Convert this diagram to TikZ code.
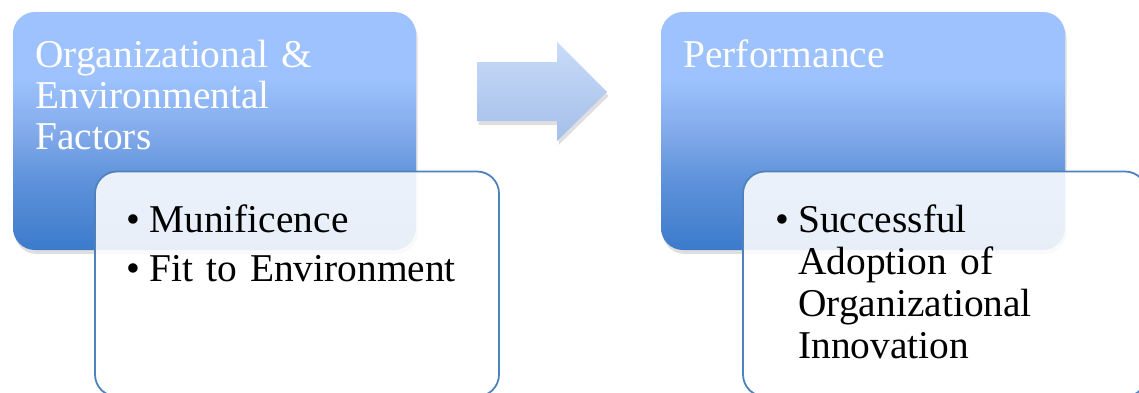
\documentclass[tikz,border=0pt]{standalone}
\usepackage{fontspec}
\setmainfont{Liberation Serif}
\usetikzlibrary{positioning,shadows}
\definecolor{boxlight}{HTML}{9DC2FD}
\definecolor{boxmid}{HTML}{83ABEB}
\definecolor{boxlow}{HTML}{5F93DB}
\definecolor{boxdark}{HTML}{3C7ACB}
\definecolor{listline}{HTML}{4F81BD}
\definecolor{arrowtop}{HTML}{C8DBF9}
\definecolor{arrowbot}{HTML}{A5BFE9}
\pgfdeclareverticalshading{boxfade}{100bp}{color(0bp)=(boxdark); color(25bp)=(boxdark);
  color(40bp)=(boxlow); color(50bp)=(boxmid); color(61bp)=(boxlight); color(75bp)=(boxlight); color(100bp)=(boxlight)}
\newcommand{\itemdot}{\makebox[11.5pt][l]{\textbullet}}

\begin{document}
\begin{tikzpicture}[x=0.5pt, y=-0.5pt,
stage/.style = {rectangle, rounded corners=11pt, shading=boxfade,
	drop shadow={opacity=0.25, shadow xshift=0.8pt, shadow yshift=-2pt},
	minimum height=119pt, inner sep=0pt},
detail/.style = {rectangle, rounded corners=11pt, draw=listline, line width=0.9pt,
	fill=white, fill opacity=0.88, text opacity=1,
	minimum width=202pt, minimum height=112.5pt, inner sep=0pt},
title/.style = {text=white, font=\fontsize{19.7pt}{20.5pt}\selectfont,
	text width=190pt, align=left, inner sep=0pt, anchor=base west},
items/.style = {text=black, font=\fontsize{19.7pt}{21pt}\selectfont,
	text width=190pt, align=left, inner sep=0pt, anchor=base west}
]
\useasboundingbox (0,0) rectangle (1139,392);
% Draw the two stage boxes
\node[stage, minimum width=201.5pt] (factors) at (214.5,131) {};
\node[stage, minimum width=202pt] (perf) at (863,131) {};
\node[title] (factors-title) at (35,67) {Organizational \&\\Environmental\\Factors};
\node[title] (perf-title) at (683,67) {Performance};
% Draw the arrow between the stages
\shade[top color=arrowtop, bottom color=arrowbot,
	drop shadow={opacity=0.25, shadow xshift=0.8pt, shadow yshift=-2pt}]
	(477,62) -- (557,62) -- (557,42) -- (607,92) -- (557,141) -- (557,121) -- (477,121) -- cycle;
% Draw the detail boxes with their bullets
\node[detail] (factors-list) at (297,284) {};
\node[detail] (perf-list) at (945,284) {};
\node[items] (factors-items) at (126,232) {\itemdot Munificence\\[3.5pt]\itemdot Fit to Environment};
\node[items] (perf-items) at (775,232) {\itemdot Successful\\\hspace*{11.5pt}Adoption of\\
	\hspace*{11.5pt}Organizational\\\hspace*{11.5pt}Innovation};
\end{tikzpicture}
\end{document}
